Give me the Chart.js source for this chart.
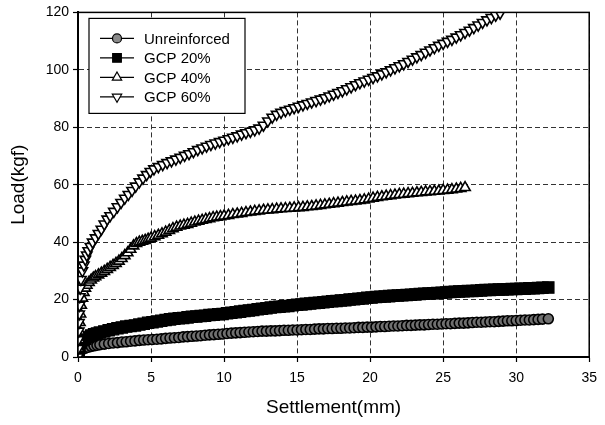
<!DOCTYPE html>
<html>
<head>
<meta charset="utf-8">
<script src="https://cdn.jsdelivr.net/npm/chart.js@4.4.1/dist/chart.umd.min.js"></script>
<style>
  html, body { margin: 0; padding: 0; background: #fff; }
  #wrap { width: 605px; height: 425px; }
</style>
</head>
<body>
<div id="wrap"><canvas id="chart" width="605" height="425"></canvas></div>
<script>
// Load–settlement curves of the plate loading tests
const seriesNames = ['Unreinforced', 'GCP 20%', 'GCP 40%', 'GCP 60%'];
const xTicks = [0, 5, 10, 15, 20, 25, 30, 35];
const yTicks = [0, 20, 40, 60, 80, 100, 120];

// Unreinforced
const unreinforcedSettlement = [
  0, 0.05, 0.1, 0.2, 0.35, 0.5, 0.7, 0.9, 1.1, 1.3,
  1.5, 1.8, 2.1, 2.4, 2.7, 3.0, 3.3, 3.6, 3.9, 4.2,
  4.5, 4.8, 5.1, 5.4, 5.7, 6.0, 6.3, 6.6, 6.9, 7.2,
  7.5, 7.8, 8.1, 8.4, 8.7, 9.0, 9.3, 9.6, 9.9, 10.2,
  10.5, 10.8, 11.1, 11.4, 11.7, 12.0, 12.3, 12.6, 12.9, 13.2,
  13.5, 13.8, 14.1, 14.4, 14.7, 15.0, 15.3, 15.6, 15.9, 16.2,
  16.5, 16.8, 17.1, 17.4, 17.7, 18.0, 18.3, 18.6, 18.9, 19.2,
  19.5, 19.8, 20.1, 20.4, 20.7, 21.0, 21.3, 21.6, 21.9, 22.2,
  22.5, 22.8, 23.1, 23.4, 23.7, 24.0, 24.3, 24.6, 24.9, 25.2,
  25.5, 25.8, 26.1, 26.4, 26.7, 27.0, 27.3, 27.6, 27.9, 28.2,
  28.5, 28.8, 29.1, 29.4, 29.7, 30.0, 30.3, 30.6, 30.9, 31.2,
  31.5, 31.8, 32.2
];
const unreinforcedLoad = [
  0, 1.0, 1.8, 2.4, 2.8, 3.1, 3.4, 3.7, 3.9, 4.1,
  4.3, 4.5, 4.7, 4.9, 5.0, 5.2, 5.3, 5.5, 5.6, 5.8,
  5.9, 6.0, 6.1, 6.2, 6.3, 6.5, 6.6, 6.7, 6.8, 7.0,
  7.1, 7.2, 7.3, 7.4, 7.6, 7.7, 7.8, 7.9, 8.0, 8.2,
  8.3, 8.4, 8.5, 8.6, 8.7, 8.8, 8.9, 9.0, 9.0, 9.1,
  9.1, 9.2, 9.3, 9.3, 9.4, 9.4, 9.5, 9.6, 9.6, 9.7,
  9.8, 9.8, 9.9, 9.9, 10.0, 10.0, 10.1, 10.1, 10.2, 10.3,
  10.3, 10.4, 10.4, 10.5, 10.6, 10.6, 10.7, 10.8, 10.8, 10.9,
  11.0, 11.0, 11.1, 11.2, 11.2, 11.3, 11.4, 11.4, 11.5, 11.6,
  11.6, 11.7, 11.8, 11.8, 11.9, 12.0, 12.1, 12.1, 12.2, 12.3,
  12.3, 12.4, 12.5, 12.6, 12.6, 12.7, 12.8, 12.9, 12.9, 13.0,
  13.1, 13.2, 13.3
];

// GCP 20%
const gcp20Settlement = [
  0, 0.02, 0.04, 0.06, 0.1, 0.2, 0.35, 0.5, 0.7, 0.9,
  1.1, 1.3, 1.5, 1.8, 2.1, 2.4, 2.7, 3.0, 3.3, 3.6,
  3.9, 4.2, 4.5, 4.8, 5.1, 5.4, 5.7, 6.0, 6.3, 6.6,
  6.9, 7.2, 7.5, 7.8, 8.1, 8.4, 8.7, 9.0, 9.3, 9.6,
  9.9, 10.2, 10.5, 10.8, 11.1, 11.4, 11.7, 12.0, 12.3, 12.6,
  12.9, 13.2, 13.5, 13.8, 14.1, 14.4, 14.7, 15.0, 15.3, 15.6,
  15.9, 16.2, 16.5, 16.8, 17.1, 17.4, 17.7, 18.0, 18.3, 18.6,
  18.9, 19.2, 19.5, 19.8, 20.1, 20.4, 20.7, 21.0, 21.3, 21.6,
  21.9, 22.2, 22.5, 22.8, 23.1, 23.4, 23.7, 24.0, 24.3, 24.6,
  24.9, 25.2, 25.5, 25.8, 26.1, 26.4, 26.7, 27.0, 27.3, 27.6,
  27.9, 28.2, 28.5, 28.8, 29.1, 29.4, 29.7, 30.0, 30.3, 30.6,
  30.9, 31.2, 31.5, 31.8, 32.2
];
const gcp20Load = [
  0, 1.0, 2.0, 3.0, 4.0, 5.0, 5.8, 6.4, 7.0, 7.5,
  7.9, 8.2, 8.5, 8.9, 9.3, 9.7, 10.0, 10.3, 10.6, 10.8,
  11.0, 11.3, 11.6, 11.9, 12.1, 12.4, 12.6, 12.9, 13.1, 13.3,
  13.5, 13.6, 13.8, 14.0, 14.1, 14.3, 14.4, 14.6, 14.7, 14.9,
  15.0, 15.2, 15.4, 15.6, 15.8, 16.0, 16.2, 16.4, 16.6, 16.8,
  17.0, 17.2, 17.4, 17.5, 17.7, 17.8, 18.0, 18.2, 18.3, 18.5,
  18.6, 18.8, 18.9, 19.1, 19.2, 19.4, 19.5, 19.7, 19.8, 20.0,
  20.1, 20.3, 20.4, 20.6, 20.7, 20.9, 21.0, 21.1, 21.2, 21.3,
  21.4, 21.5, 21.6, 21.7, 21.8, 21.9, 22.0, 22.1, 22.2, 22.3,
  22.4, 22.5, 22.6, 22.7, 22.8, 22.9, 23.0, 23.0, 23.1, 23.2,
  23.3, 23.3, 23.4, 23.5, 23.5, 23.6, 23.7, 23.7, 23.8, 23.8,
  23.9, 23.9, 24.0, 24.1, 24.2
];

// GCP 40%
const gcp40Settlement = [
  0, 0.05, 0.08, 0.1, 0.13, 0.17, 0.22, 0.3, 0.4, 0.5,
  0.6, 0.75, 0.9, 1.05, 1.2, 1.4, 1.6, 1.8, 2.0, 2.2,
  2.4, 2.6, 2.8, 3.0, 3.2, 3.4, 3.6, 3.8, 4.0, 4.2,
  4.4, 4.6, 4.8, 5.0, 5.25, 5.5, 5.75, 6.0, 6.25, 6.5,
  6.75, 7.0, 7.25, 7.5, 7.75, 8.0, 8.25, 8.5, 8.75, 9.0,
  9.25, 9.5, 9.75, 10.0, 10.3, 10.6, 10.9, 11.2, 11.5, 11.8,
  12.1, 12.4, 12.7, 13.0, 13.3, 13.6, 13.9, 14.2, 14.5, 14.8,
  15.1, 15.4, 15.7, 16.0, 16.3, 16.6, 16.9, 17.2, 17.5, 17.8,
  18.1, 18.4, 18.7, 19.0, 19.3, 19.6, 19.9, 20.2, 20.5, 20.8,
  21.1, 21.4, 21.7, 22.0, 22.3, 22.6, 22.9, 23.2, 23.5, 23.8,
  24.1, 24.4, 24.7, 25.0, 25.3, 25.6, 25.9, 26.2, 26.5
];
const gcp40Load = [
  0, 3, 6, 9, 12, 15, 18, 20.5, 22.5, 24,
  25, 26, 26.8, 27.5, 28, 28.6, 29.2, 29.8, 30.5, 31.2,
  31.9, 32.6, 33.4, 34.3, 35.3, 36.3, 37.5, 38.7, 39.5, 40.0,
  40.3, 40.6, 41.0, 41.4, 41.9, 42.4, 42.9, 43.5, 44.1, 44.7,
  45.2, 45.6, 45.9, 46.2, 46.6, 47.0, 47.3, 47.6, 47.9, 48.2,
  48.5, 48.7, 48.9, 49.1, 49.3, 49.6, 49.8, 50.0, 50.3, 50.5,
  50.7, 50.9, 51.1, 51.2, 51.3, 51.5, 51.6, 51.7, 51.8, 51.9,
  52.0, 52.1, 52.3, 52.4, 52.6, 52.8, 53.0, 53.2, 53.4, 53.6,
  53.8, 54.0, 54.2, 54.3, 54.5, 54.7, 55.0, 55.3, 55.6, 55.8,
  56.0, 56.2, 56.4, 56.6, 56.7, 56.9, 57.0, 57.2, 57.3, 57.5,
  57.6, 57.7, 57.8, 58.0, 58.1, 58.3, 58.5, 58.7, 59.0
];

// GCP 60%
const gcp60Settlement = [
  0, 0.02, 0.03, 0.05, 0.06, 0.08, 0.1, 0.12, 0.15, 0.2,
  0.3, 0.4, 0.5, 0.6, 0.7, 0.85, 1.0, 1.2, 1.4, 1.6,
  1.8, 2.0, 2.2, 2.45, 2.7, 2.95, 3.2, 3.45, 3.7, 3.95,
  4.2, 4.45, 4.7, 4.95, 5.2, 5.5, 5.8, 6.1, 6.4, 6.7,
  7.0, 7.3, 7.6, 7.9, 8.2, 8.5, 8.8, 9.1, 9.4, 9.7,
  10.0, 10.3, 10.6, 10.9, 11.2, 11.5, 11.8, 12.1, 12.4, 12.7,
  13.0, 13.3, 13.6, 13.9, 14.2, 14.5, 14.8, 15.1, 15.4, 15.7,
  16.0, 16.3, 16.6, 16.9, 17.2, 17.5, 17.8, 18.1, 18.4, 18.7,
  19.0, 19.3, 19.6, 19.9, 20.2, 20.5, 20.8, 21.1, 21.4, 21.7,
  22.0, 22.3, 22.6, 22.9, 23.2, 23.5, 23.8, 24.1, 24.4, 24.7,
  25.0, 25.3, 25.6, 25.9, 26.2, 26.5, 26.8, 27.1, 27.4, 27.7,
  28.0, 28.3, 28.6, 28.9
];
const gcp60Load = [
  0, 3, 6, 9, 12, 15, 18, 21, 24, 27,
  30, 32, 34, 35.5, 37, 38.5, 40, 41.5, 43, 44.5,
  46.3, 48.0, 49.2, 50.7, 52.3, 53.8, 55.3, 56.6, 58.0, 59.5,
  61.0, 62.3, 63.5, 64.6, 65.5, 66.3, 67.0, 67.7, 68.3, 68.9,
  69.5, 70.2, 70.8, 71.5, 72.2, 72.8, 73.4, 74.0, 74.5, 75.0,
  75.5, 76.0, 76.5, 77.0, 77.6, 78.1, 78.6, 79.1, 79.7, 80.7,
  82.2, 83.5, 84.5, 85.2, 85.8, 86.3, 86.8, 87.3, 87.8, 88.3,
  88.8, 89.3, 89.8, 90.3, 90.9, 91.5, 92.1, 92.7, 93.4, 94.1,
  94.8, 95.5, 96.1, 96.7, 97.3, 97.9, 98.6, 99.3, 100.0, 100.7,
  101.4, 102.1, 102.9, 103.7, 104.5, 105.3, 106.1, 106.9, 107.7, 108.5,
  109.2, 109.9, 110.6, 111.4, 112.2, 113.0, 113.8, 114.7, 115.6, 116.5,
  117.4, 118.2, 119.0, 119.7
];

const FONT = "'Liberation Sans', Arial, Helvetica, sans-serif";

function pairs(xs, ys) {
  return xs.map((x, i) => ({ x: x, y: ys[i] }));
}

// Marker shapes shared by the plot and the legend
const markerStyles = [
  { pointStyle: 'circle',   radius: 5,   rotation: 0,   fill: '#707070', stroke: '#000', width: 1.6 },
  { pointStyle: 'rect',     radius: 8,   rotation: 0,   fill: '#000',    stroke: '#000', width: 1.2 },
  { pointStyle: 'triangle', radius: 6,   rotation: 0,   fill: '#fff',    stroke: '#000', width: 1.6 },
  { pointStyle: 'triangle', radius: 6,   rotation: 180, fill: '#fff',    stroke: '#000', width: 1.6 }
];

const seriesData = [
  pairs(unreinforcedSettlement, unreinforcedLoad),
  pairs(gcp20Settlement, gcp20Load),
  pairs(gcp40Settlement, gcp40Load),
  pairs(gcp60Settlement, gcp60Load)
];

const datasets = seriesNames.map((name, i) => ({
  label: name,
  data: seriesData[i],
  showLine: true,
  borderColor: '#000',
  borderWidth: 1.2,
  pointStyle: markerStyles[i].pointStyle,
  pointRadius: markerStyles[i].radius,
  pointRotation: markerStyles[i].rotation,
  pointBackgroundColor: markerStyles[i].fill,
  pointBorderColor: markerStyles[i].stroke,
  pointBorderWidth: markerStyles[i].width,
  pointHoverRadius: markerStyles[i].radius,
  order: 4 - i
}));

// Frame around the plotting area
const frame = {
  id: 'frame',
  afterDatasetsDraw(chart) {
    const a = chart.chartArea;
    const ctx = chart.ctx;
    ctx.save();
    ctx.strokeStyle = '#000';
    ctx.lineWidth = 1.5;
    ctx.strokeRect(a.left, a.top, a.right - a.left, a.bottom - a.top);
    ctx.restore();
  }
};

function drawMarker(ctx, style, x, y) {
  ctx.save();
  ctx.fillStyle = style.pointStyle === 'circle' ? '#8a8a8a' : style.fill;
  ctx.strokeStyle = style.stroke;
  ctx.lineWidth = 1.2;
  ctx.beginPath();
  const r = style.radius * 0.9;
  if (style.pointStyle === 'circle') {
    ctx.arc(x, y, r, 0, Math.PI * 2);
  } else if (style.pointStyle === 'rect') {
    const s = Math.SQRT1_2 * r * 0.85;
    ctx.rect(x - s, y - s, 2 * s, 2 * s);
  } else {
    let rad = style.rotation * Math.PI / 180;
    for (let k = 0; k < 3; k++) {
      const px = x + Math.sin(rad) * r;
      const py = y - Math.cos(rad) * r;
      if (k === 0) ctx.moveTo(px, py); else ctx.lineTo(px, py);
      rad += 2 * Math.PI / 3;
    }
    ctx.closePath();
  }
  ctx.fill();
  ctx.stroke();
  ctx.restore();
}

// Boxed legend in the upper-left corner of the plot
const insetLegend = {
  id: 'insetLegend',
  afterDraw(chart) {
    const a = chart.chartArea;
    const ctx = chart.ctx;
    const x0 = a.left + 11, y0 = a.top + 6, w = 156, h = 95;
    ctx.save();
    ctx.fillStyle = '#fff';
    ctx.fillRect(x0, y0, w, h);
    ctx.strokeStyle = '#000';
    ctx.lineWidth = 1.2;
    ctx.strokeRect(x0, y0, w, h);
    chart.data.datasets.forEach((ds, i) => {
      const y = y0 + 20 + i * 19.5;
      ctx.strokeStyle = '#000';
      ctx.lineWidth = 1.2;
      ctx.beginPath();
      ctx.moveTo(x0 + 11, y);
      ctx.lineTo(x0 + 45, y);
      ctx.stroke();
      drawMarker(ctx, markerStyles[i], x0 + 28, y);
      ctx.fillStyle = '#000';
      ctx.font = '15px ' + FONT;
      ctx.textBaseline = 'middle';
      ctx.textAlign = 'left';
      ctx.fillText(ds.label, x0 + 55, y + 1);
    });
    ctx.restore();
  }
};

const gridCommon = {
  color: '#333',
  lineWidth: 1,
  drawTicks: true,
  tickLength: 5,
  tickColor: '#000',
  tickWidth: 1.2
};

new Chart(document.getElementById('chart'), {
  type: 'scatter',
  data: { datasets: datasets },
  options: {
    responsive: false,
    animation: false,
    devicePixelRatio: 1,
    layout: { padding: { top: 12, right: 9, left: 0, bottom: 0 } },
    plugins: {
      legend: { display: false },
      tooltip: { enabled: false }
    },
    scales: {
      x: {
        type: 'linear',
        min: xTicks[0],
        max: xTicks[xTicks.length - 1],
        afterBuildTicks(scale) { scale.ticks = xTicks.map(v => ({ value: v })); },
        afterFit(scale) { scale.height = 68; },
        grid: gridCommon,
        border: { display: true, color: '#000', width: 2, dash: [5, 3] },
        ticks: {
          color: '#000',
          font: { family: FONT, size: 14 },
          padding: 8,
          maxRotation: 0
        },
        title: {
          display: true,
          text: 'Settlement(mm)',
          color: '#000',
          font: { family: FONT, size: 19 },
          padding: { top: 0, bottom: 6 }
        }
      },
      y: {
        type: 'linear',
        min: yTicks[0],
        max: yTicks[yTicks.length - 1],
        afterBuildTicks(scale) { scale.ticks = yTicks.map(v => ({ value: v })); },
        afterFit(scale) { scale.width = 78; },
        grid: gridCommon,
        border: { display: true, color: '#000', width: 2, dash: [5, 3] },
        ticks: {
          color: '#000',
          font: { family: FONT, size: 14 },
          padding: 4
        },
        title: {
          display: true,
          text: 'Load(kgf)',
          color: '#000',
          font: { family: FONT, size: 19 },
          padding: { top: 7, bottom: 0 }
        }
      }
    }
  },
  plugins: [frame, insetLegend]
});
</script>
</body>
</html>
